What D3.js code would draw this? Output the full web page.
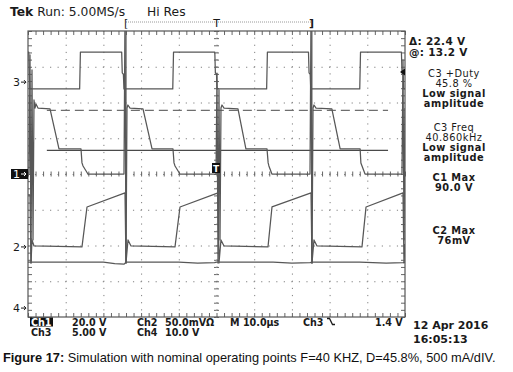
<!DOCTYPE html>
<html>
<head>
<meta charset="utf-8">
<script src="https://cdn.jsdelivr.net/npm/d3@7"></script>
<style>
  body { margin: 0; background: #fff; }
  svg { display: block; }
  .scr { font-family: "DejaVu Sans", sans-serif; }
  .cap { font-family: "Liberation Sans", Arial, sans-serif; }
</style>
</head>
<body>
<div id="scope"></div>
<script>
// time axis: 10 divisions of 10 us
const timeDomain = [0, 100];
const divDomain = [-4, 4];

// channel settings: volts per division and ground marker position (divisions from centre)
const chLabels = ["1", "2", "3", "4"];
const chVoltsPerDiv = [20, 50, 5, 10];
const chGroundDiv = [0, -2.04, 2.57, -3.75];

// CH3 gate drive (V)
const ch3Time = [0, 0.2, 0.35, 0.5, 13.7, 13.9, 24.85, 25.0, 25.3, 25.45, 38.4, 38.6, 49.55, 49.7, 50.0, 50.15,
  63.3, 63.5, 74.4, 74.55, 74.85, 75.0, 88.0, 88.2, 99.05, 99.2, 99.5, 99.65, 100];
const ch3Volts = [4.2, 4.2, 1.3, -0.95, -0.95, 4.2, 4.2, 1.3, 1.1, -0.95, -0.95, 4.2, 4.2, 1.3, 1.1, -0.95,
  -0.95, 4.2, 4.2, 1.3, 1.1, -0.95, -0.95, 4.2, 4.2, 1.3, 1.1, -0.95, -0.95];

// CH1 switch voltage (V)
const ch1Time = [0, 0.27, 0.53, 0.8, 1.06, 1.33, 1.59, 1.86, 2.12, 2.65, 5.84, 8.22, 14.06, 14.32, 14.6, 15.9,
  25.46, 25.73, 25.99, 26.26, 26.5, 27.06, 30.5, 32.9, 38.46, 38.73, 39.0, 40.3,
  49.87, 50.13, 50.4, 50.66, 50.93, 51.19, 51.46, 52.0, 55.7, 57.8, 63.4, 63.7, 63.9, 64.7,
  74.8, 75.07, 75.33, 75.6, 75.86, 76.4, 80.6, 82.8, 88.1, 88.3, 88.6, 89.4,
  99.2, 99.47, 99.73, 100];
const ch1Volts = [0, 0, 66.6, -49.8, 58.2, -36.9, 41.4, 36.9, 39.2, 36.9, 36.4, 14.0, 14.0, 6.2, 4.5, 0,
  0, 90, -49.8, 36.9, 38.6, 36.9, 36.4, 14.0, 14.0, 6.2, 4.5, 0,
  0, 56.5, -49.8, 47, -36.9, 36.9, 38.6, 36.9, 36.4, 14.0, 14.0, 6.2, 4.5, 0,
  0, 90, -49.8, 36.9, 38.6, 36.9, 36.4, 14.0, 14.0, 6.2, 4.5, 0,
  0, 63.8, -36.9, 36.9];

// CH2 current sense (mV)
const ch2Time = [0, 0.53, 0.8, 1.06, 1.59, 14.32, 15.65, 25.73, 25.99, 26.53, 27.32, 38.99, 40.32,
  50.4, 50.66, 51.19, 51.99, 63.66, 64.72, 75.07, 75.33, 75.86, 76.66, 88.59, 89.66, 99.47, 99.73, 100];
const ch2MilliVolts = [72.7, 72.7, -22.4, 9.8, 1.4, 0, 55.9, 75.5, -22.4, 9.8, 1.4, 0, 55.9,
  75.5, -22.4, 9.8, 1.4, 0, 55.9, 75.5, -22.4, 9.8, 1.4, 0, 55.9, 75.5, -22.4, 4];

// CH4 (V)
const ch4Time = [0, 20, 23, 25.5, 26, 40, 45, 49.5, 50, 65, 70, 74.8, 75.5, 88, 95, 99.5, 100];
const ch4Volts = [12.87, 12.87, 12.4, 12.3, 12.87, 12.87, 12.6, 12.7, 12.87, 12.87, 12.6, 12.7, 12.87, 12.87, 12.6, 12.7, 12.87];

// horizontal bar cursors on CH1 (V) and their time span (us)
const cursorVolts = [35.6, 13.2];
const cursorSpan = [5, 95.5];

// record window markers (us)
const windowMarks = [26.0, 75.3];
const triggerTime = 50;

const measureLines = ["Δ: 22.4 V", "@: 13.2 V"];
const measureBlocks = [
  ["C3 +Duty", "45.8 %", "Low signal", "amplitude"],
  ["C3 Freq", "40.860kHz", "Low signal", "amplitude"],
  ["C1 Max", "90.0 V"],
  ["C2 Max", "76mV"]
];

const width = 513, height = 372;
const plot = { left: 28, right: 405, top: 31, bottom: 317 };
const traceColor = "#575757";
const gridColor = "#808080";
const ink = "#1a1a1a";

const svg = d3.select("#scope").append("svg")
  .attr("width", width).attr("height", height)
  .attr("viewBox", `0 0 ${width} ${height}`);

const x = d3.scaleLinear().domain(timeDomain).range([plot.left, plot.right]);
const yDiv = d3.scaleLinear().domain(divDomain).range([plot.bottom, plot.top]);

// one scale per channel from volts/div and ground offset
const chScale = i => d3.scaleLinear()
  .domain([(divDomain[0] - chGroundDiv[i]) * chVoltsPerDiv[i], (divDomain[1] - chGroundDiv[i]) * chVoltsPerDiv[i]])
  .range([plot.bottom, plot.top]);

/*************/
/* Graticule */
/*************/
const plotW = plot.right - plot.left, plotH = plot.bottom - plot.top;
const majorT = d3.range(10, 100, 10);
const minorT = d3.range(0, 100.01, 2);
const majorD = d3.range(-3, 4, 1);
const minorD = d3.range(-4, 4.01, 0.2);
const minorStepX = x(2) - x(0), minorStepY = yDiv(0) - yDiv(0.2);

// dotted division lines
svg.append("g")
  .attr("transform", `translate(0,${plot.bottom})`)
  .call(d3.axisBottom(x).tickValues(majorT).tickSize(-plotH).tickFormat(""))
  .call(g => g.select(".domain").remove())
  .call(g => g.selectAll("line").attr("stroke", gridColor)
    .attr("stroke-dasharray", `1.2 ${minorStepY - 1.2}`).attr("stroke-dashoffset", 0.6));

svg.append("g")
  .attr("transform", `translate(${plot.left},0)`)
  .call(d3.axisLeft(yDiv).tickValues(majorD).tickSize(-plotW).tickFormat(""))
  .call(g => g.select(".domain").remove())
  .call(g => g.selectAll("line").attr("stroke", gridColor)
    .attr("stroke-dasharray", `1.2 ${minorStepX - 1.2}`).attr("stroke-dashoffset", 0.6));

// minor ticks on the border and on the centre cross
const tickAxes = [
  { gen: d3.axisTop(x).tickValues(minorT), t: `translate(0,${plot.top})`, s: -4 },
  { gen: d3.axisBottom(x).tickValues(minorT), t: `translate(0,${plot.bottom})`, s: -4 },
  { gen: d3.axisLeft(yDiv).tickValues(minorD), t: `translate(${plot.left},0)`, s: -4 },
  { gen: d3.axisRight(yDiv).tickValues(minorD), t: `translate(${plot.right},0)`, s: -4 },
  { gen: d3.axisTop(x).tickValues(minorT), t: `translate(0,${yDiv(0)})`, s: 2.5 },
  { gen: d3.axisBottom(x).tickValues(minorT), t: `translate(0,${yDiv(0)})`, s: 2.5 },
  { gen: d3.axisLeft(yDiv).tickValues(minorD), t: `translate(${x(50)},0)`, s: 2.5 },
  { gen: d3.axisRight(yDiv).tickValues(minorD), t: `translate(${x(50)},0)`, s: 2.5 }
];
tickAxes.forEach(a => {
  svg.append("g").attr("transform", a.t)
    .call(a.gen.tickSize(a.s).tickFormat(""))
    .call(g => g.select(".domain").remove())
    .call(g => g.selectAll("line").attr("stroke", "#666"));
});

svg.append("rect")
  .attr("x", plot.left).attr("y", plot.top)
  .attr("width", plotW).attr("height", plotH)
  .attr("fill", "none").attr("stroke", "#555").attr("stroke-width", 1.2);

/**********/
/* Traces */
/**********/
svg.append("clipPath").attr("id", "clip")
  .append("rect").attr("x", plot.left).attr("y", plot.top).attr("width", plotW).attr("height", plotH);

const traces = svg.append("g").attr("clip-path", "url(#clip)");

// record window lines
traces.selectAll(".win").data(windowMarks).join("line")
  .attr("x1", d => x(d)).attr("x2", d => x(d))
  .attr("y1", plot.top).attr("y2", yDiv(-2.5))
  .attr("stroke", "#5a5a5a").attr("stroke-width", 1.2);

// cursors on CH1
const y1 = chScale(0);
traces.selectAll(".cur").data(cursorVolts).join("line")
  .attr("x1", x(cursorSpan[0])).attr("x2", x(cursorSpan[1]))
  .attr("y1", d => y1(d)).attr("y2", d => y1(d))
  .attr("stroke", (d, i) => i === 0 ? "#6e6e6e" : "#4a4a4a")
  .attr("stroke-width", 1.3)
  .attr("stroke-dasharray", (d, i) => i === 0 ? "9 5" : null);

const series = [
  { t: ch4Time, v: ch4Volts, ch: 3 },
  { t: ch2Time, v: ch2MilliVolts, ch: 1 },
  { t: ch3Time, v: ch3Volts, ch: 2 },
  { t: ch1Time, v: ch1Volts, ch: 0 }
];
series.forEach(s => {
  const ys = chScale(s.ch);
  const line = d3.line().x((d, i) => x(s.t[i])).y(d => ys(d));
  traces.append("path")
    .attr("d", line(s.v))
    .attr("fill", "none")
    .attr("stroke", traceColor)
    .attr("stroke-width", 1.25)
    .attr("stroke-linejoin", "round");
});

// trigger position marker and CH3 trigger level arrow
const tg = svg.append("g");
tg.append("rect").attr("x", x(triggerTime) - 4.5).attr("y", yDiv(0) - 11).attr("width", 8).attr("height", 10).attr("fill", "#111");
tg.append("text").attr("class", "scr").attr("x", x(triggerTime) - 0.5).attr("y", yDiv(0) - 2.5)
  .attr("text-anchor", "middle").style("font-size", "9px").style("font-weight", "bold").style("fill", "#fff").text("T");
svg.append("path")
  .attr("d", `M${plot.right - 5},${chScale(2)(0) - 10} l5,-3.5 l0,7 z`)
  .attr("fill", "#111");

/*******************/
/* Ground markers  */
/*******************/
chLabels.forEach((lab, i) => {
  const yy = yDiv(chGroundDiv[i]);
  const col = i === 0 ? "#fff" : ink;
  const g = svg.append("g");
  if (i === 0) g.append("rect").attr("x", 11).attr("y", yy - 5).attr("width", 17).attr("height", 10).attr("fill", "#111");
  g.append("text").attr("class", "scr").attr("x", 13).attr("y", yy + 4)
    .style("font-size", "11px").style("fill", col).text(lab);
  g.append("path").attr("d", `M21,${yy} h5 m-2,-2 l2,2 l-2,2`)
    .attr("stroke", col).attr("stroke-width", 1).attr("fill", "none");
});

/**************/
/* Top banner */
/**************/
svg.append("text").attr("class", "scr").attr("x", 10).attr("y", 15.5)
  .style("font-size", "12.3px").style("fill", ink)
  .call(t => t.append("tspan").style("font-weight", "bold").text("Tek"))
  .call(t => t.append("tspan").text(" Run: 5.00MS/s"));
svg.append("text").attr("class", "scr").attr("x", 147).attr("y", 15.5)
  .style("font-size", "12.3px").style("fill", ink).text("Hi Res");

svg.append("line").attr("x1", x(windowMarks[0])).attr("x2", x(windowMarks[1]))
  .attr("y1", 22).attr("y2", 22).attr("stroke", "#999").attr("stroke-dasharray", "1 1");
svg.append("text").attr("class", "scr").attr("x", x(windowMarks[0]) - 2).attr("y", 27)
  .style("font-size", "11px").style("fill", ink).text("[");
svg.append("text").attr("class", "scr").attr("x", x(windowMarks[1]) - 3).attr("y", 27)
  .style("font-size", "11px").style("font-weight", "bold").style("fill", ink).text("]");
svg.append("text").attr("class", "scr").attr("x", x(triggerTime)).attr("y", 27)
  .attr("text-anchor", "middle").style("font-size", "11px").style("fill", ink).text("T");

/********************/
/* Right readouts   */
/********************/
svg.selectAll(".ml").data(measureLines).join("text").attr("class", "scr")
  .attr("x", 409).attr("y", (d, i) => 45 + i * 11)
  .style("font-size", "10.5px").style("letter-spacing", "0.3px")
  .style("font-weight", "bold").style("fill", ink).text(d => d);

const blockTop = [77, 131, 181, 234];
measureBlocks.forEach((b, bi) => {
  svg.selectAll(null).data(b).join("text").attr("class", "scr")
    .attr("x", 454).attr("y", (d, i) => blockTop[bi] + i * 10)
    .attr("text-anchor", "middle")
    .style("font-size", "9.8px").style("letter-spacing", "0.5px")
    .style("font-weight", (d, i) => bi < 2 && i < 2 ? "normal" : "bold")
    .style("fill", ink)
    .text(d => d);
});

/*********************/
/* Bottom status bar */
/*********************/
svg.append("rect").attr("x", 30).attr("y", 317.5).attr("width", 23).attr("height", 9).attr("fill", "#111");
const status = [
  { x: 31, y: 325.5, t: "Ch1", c: "#fff" },
  { x: 72, y: 325.5, t: "20.0 V" },
  { x: 137, y: 325.5, t: "Ch2" },
  { x: 165, y: 325.5, t: "50.0mVΩ" },
  { x: 230, y: 325.5, t: "M 10.0µs" },
  { x: 303, y: 325.5, t: "Ch3" },
  { x: 375, y: 325.5, t: "1.4 V" },
  { x: 31, y: 335.5, t: "Ch3" },
  { x: 72, y: 335.5, t: "5.00 V" },
  { x: 137, y: 335.5, t: "Ch4" },
  { x: 165, y: 335.5, t: "10.0 V" }
];
svg.selectAll(".st").data(status).join("text").attr("class", "scr")
  .attr("x", d => d.x).attr("y", d => d.y)
  .style("font-size", "9.6px").style("font-weight", "bold")
  .style("fill", d => d.c || ink)
  .text(d => d.t);

// falling-edge trigger slope symbol
svg.append("path").attr("d", "M327,318.5 h2.5 l3,6 h2.5")
  .attr("fill", "none").attr("stroke", ink).attr("stroke-width", 1.3);

const stamp = ["12 Apr 2016", "16:05:13"];
svg.selectAll(".ts").data(stamp).join("text").attr("class", "scr")
  .attr("x", 413).attr("y", (d, i) => 329 + i * 13.5)
  .style("font-size", "11px").style("font-weight", "bold").style("fill", ink)
  .text(d => d);

/***********/
/* Caption */
/***********/
svg.append("text").attr("class", "cap").attr("x", 3).attr("y", 362).style("font-size", "12.8px").style("fill", "#111")
  .call(t => t.append("tspan").style("font-weight", "bold").text("Figure 17:"))
  .call(t => t.append("tspan").text(" Simulation with nominal operating points F=40 KHZ, D=45.8%, 500 mA/dIV."));
</script>
</body>
</html>
